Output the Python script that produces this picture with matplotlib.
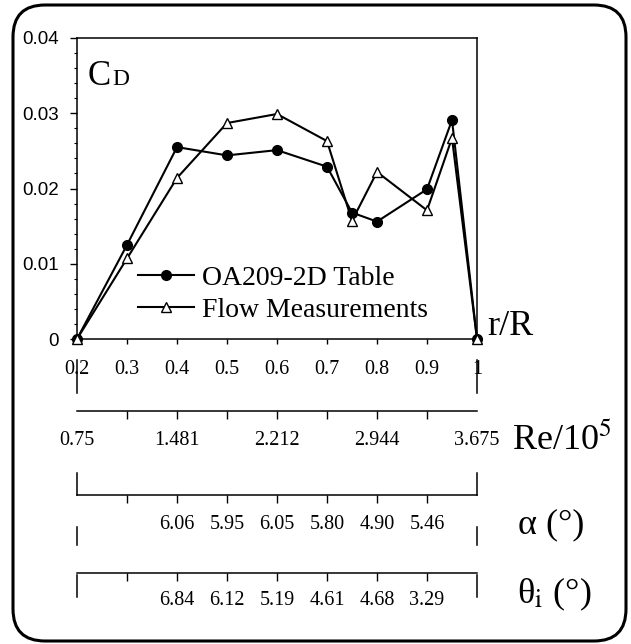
import numpy as np
import matplotlib
matplotlib.use("Agg")
import matplotlib.pyplot as plt
from matplotlib.patches import FancyBboxPatch
from matplotlib.ticker import MultipleLocator

plt.rcParams['font.family'] = ['Liberation Serif', 'DejaVu Serif']
plt.rcParams['mathtext.fontset'] = 'stix'

# radial stations and drag coefficients
r_R = [0.2, 0.3, 0.4, 0.5, 0.6, 0.7, 0.75, 0.8, 0.9, 0.95, 1.0]
cd_table = [0, 0.0125, 0.0255, 0.0244, 0.0251, 0.0229, 0.0168, 0.0156, 0.0199, 0.0291, 0]
cd_flow = [0, 0.0107, 0.0214, 0.0287, 0.0299, 0.0263, 0.0157, 0.0222, 0.0171, 0.0267, 0]

# secondary scales along r/R
scale_pos = [0.2, 0.3, 0.4, 0.5, 0.6, 0.7, 0.8, 0.9, 1.0]
rR_labels = ["0.2", "0.3", "0.4", "0.5", "0.6", "0.7", "0.8", "0.9", "1"]
re_labels = ["0.75", "", "1.481", "", "2.212", "", "2.944", "", "3.675"]
alpha_labels = ["", "", "6.06", "5.95", "6.05", "5.80", "4.90", "5.46", ""]
theta_labels = ["", "", "6.84", "6.12", "5.19", "4.61", "4.68", "3.29", ""]
cd_ticks = [0, 0.01, 0.02, 0.03, 0.04]
cd_tick_labels = ["0", "0.01", "0.02", "0.03", "0.04"]

fig = plt.figure(figsize=(6.31, 6.44), dpi=100)
ax = fig.add_axes([77/631, 1 - 339/644, 400/631, 301/644])

ax.plot(r_R, cd_table, color='black', lw=1.5, marker='o', ms=7,
        mfc='black', mec='black', clip_on=False, zorder=3, label='OA209-2D Table')
ax.plot(r_R, cd_flow, color='black', lw=1.5, marker='^', ms=7,
        mfc='white', mec='black', mew=1.0, clip_on=False, zorder=4, label='Flow Measurements')

ax.set_xlim(0.2, 1.0)
ax.set_ylim(0, 0.04)
ax.set_xticks(scale_pos, labels=rR_labels)
ax.set_yticks(cd_ticks, labels=cd_tick_labels)
for lab in ax.get_yticklabels():
    lab.set_fontfamily('Liberation Sans')
ax.yaxis.set_minor_locator(MultipleLocator(0.002))
ax.tick_params(axis='x', direction='out', length=3.6, width=1, pad=11.5, labelsize=14.5)
ax.tick_params(axis='y', which='major', direction='out', length=5, width=1, pad=8, labelsize=13.5)
ax.tick_params(axis='y', which='minor', direction='out', length=2.5, width=0.8)
for s in ax.spines.values():
    s.set_linewidth(1.1)

ax.legend(loc='center left', bbox_to_anchor=(0.1525, 0.1495), frameon=False,
          fontsize=20, borderpad=0, borderaxespad=0, handlelength=2.0,
          handletextpad=0.32, labelspacing=0.25)

ax.text(0.0275, 0.844, "C", transform=ax.transAxes, fontsize=25, va='baseline', ha='left')
ax.text(0.0875, 0.844, "D", transform=ax.transAxes, fontsize=17, va='baseline', ha='left')
ax.text(1.025, 0.013, "r/R", transform=ax.transAxes, fontsize=26, va='baseline', ha='left')


def add_scale(loc, labels, pad):
    sec = ax.secondary_xaxis(loc)
    sec.set_xticks(scale_pos, labels=labels)
    sec.tick_params(direction='out', length=6, width=1, pad=pad, labelsize=14.5)
    sec.spines['bottom'].set_linewidth(1.1)
    ticks = sec.xaxis.get_major_ticks()
    ticks[0].tick1line.set_visible(False)
    ticks[-1].tick1line.set_visible(False)
    return sec


add_scale(-0.239, re_labels, 8.4)
add_scale(-0.518, alpha_labels, 8.4)
add_scale(-0.777, theta_labels, 7.0)

ax.text(1.0875, -0.369, "Re/10$^5$", transform=ax.transAxes, fontsize=26, va='baseline', ha='left')
ax.text(1.1025, -0.6445, "α (°)", transform=ax.transAxes, fontsize=26, va='baseline', ha='left')
ax.text(1.1, -0.877, "θ$_{\\rm i}$ (°)", transform=ax.transAxes, fontsize=26, va='baseline', ha='left')

# end markers of the stacked scales
xt = ax.get_xaxis_transform()
for y0, y1 in [(-0.0698, -0.1794), (-0.445, -0.518), (-0.625, -0.684), (-0.784, -0.857)]:
    for xe in (0.2, 1.0):
        ax.plot([xe, xe], [y0, y1], color='black', lw=1.1, transform=xt, clip_on=False)

# rounded frame around the whole figure
frame = FancyBboxPatch((0.13, 0.03), 6.13, 6.36, boxstyle="round,pad=0,rounding_size=0.32",
                       transform=fig.dpi_scale_trans, fill=False, ec='black', lw=2.2)
fig.patches.append(frame)

fig.savefig("out.png", dpi=100)
